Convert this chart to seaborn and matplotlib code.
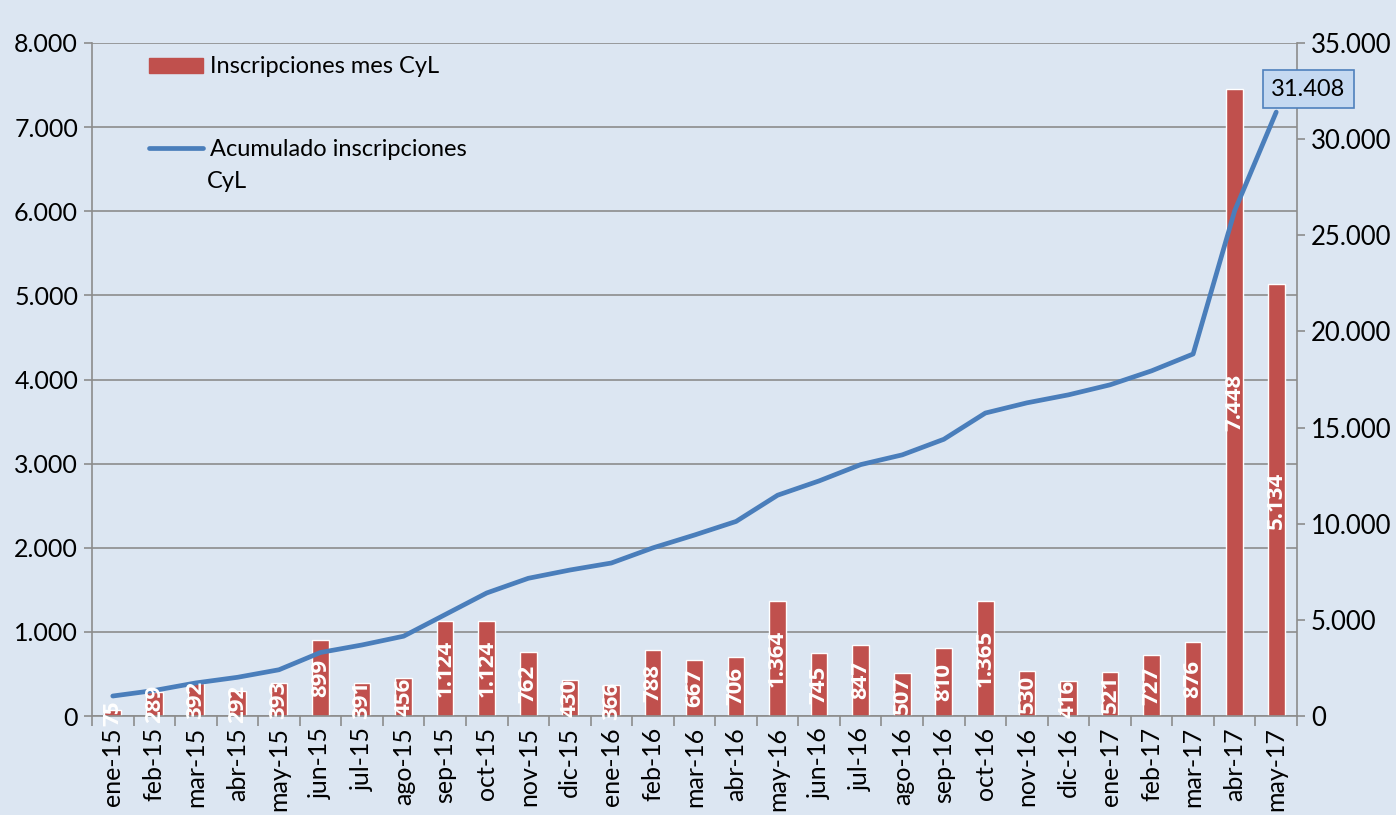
import matplotlib
matplotlib.use("Agg")
import matplotlib.pyplot as plt
import seaborn as sns
import pandas as pd
import numpy as np
from matplotlib.ticker import FuncFormatter, MultipleLocator, FixedLocator
from matplotlib.patches import Patch
from matplotlib.lines import Line2D

months = ["ene-15", "feb-15", "mar-15", "abr-15", "may-15", "jun-15", "jul-15", "ago-15",
          "sep-15", "oct-15", "nov-15", "dic-15", "ene-16", "feb-16", "mar-16", "abr-16",
          "may-16", "jun-16", "jul-16", "ago-16", "sep-16", "oct-16", "nov-16", "dic-16",
          "ene-17", "feb-17", "mar-17", "abr-17", "may-17"]
monthly = [75, 289, 392, 292, 393, 899, 391, 456, 1124, 1124, 762, 430, 366, 788, 667, 706,
           1364, 745, 847, 507, 810, 1365, 530, 416, 521, 727, 876, 7448, 5134]
cumulative = [1039, 1328, 1720, 2012, 2405, 3304, 3695, 4151, 5275, 6399, 7161, 7591, 7957,
              8745, 9412, 10118, 11482, 12227, 13074, 13581, 14391, 15756, 16286, 16702,
              17223, 17950, 18826, 26274, 31408]
bar_label = "Inscripciones mes CyL"
line_label_1 = "Acumulado inscripciones"
line_label_2 = "CyL"

BG = "#DCE6F2"
RED = "#C0504D"
BLUE = "#4A7EBB"
GRID = "#8C8C8C"

sns.set_theme(style="white")
plt.rcParams["font.family"] = ["Lato", "DejaVu Sans"]

fig = plt.figure(figsize=(13.96, 8.15), dpi=100, facecolor=BG)
ax = fig.add_axes([92 / 1396, 1 - 716 / 815, (1297 - 92) / 1396, (716 - 43) / 815])
ax.set_facecolor(BG)

df = pd.DataFrame({"mes": months, "valor": monthly, "acum": cumulative, "pos": np.arange(len(months))})

sns.barplot(data=df, x="mes", y="valor", color=RED, width=0.4, saturation=1,
            ax=ax, zorder=2)
ax.set_xlim(-0.5, len(months) - 0.5)
ax.set_ylim(0, 8000)
ax.yaxis.set_major_locator(MultipleLocator(1000))
fmt = FuncFormatter(lambda v, p: f"{int(v):,}".replace(",", "."))
ax.yaxis.set_major_formatter(fmt)
ax.grid(axis="y", color=GRID, linewidth=1.2, zorder=0)
ax.set_axisbelow(True)
ax.set_xlabel("")
ax.set_ylabel("")

ax2 = ax.twinx()
sns.lineplot(data=df, x="pos", y="acum", color=BLUE, linewidth=3.4, ax=ax2,
             zorder=3, legend=False)
ax2.set_ylim(0, 35000)
ax2.yaxis.set_major_locator(MultipleLocator(5000))
ax2.yaxis.set_major_formatter(fmt)
ax2.set_ylabel("")
ax2.set_xlabel("")
ax2.set_xlim(-0.5, len(months) - 0.5)
ax.set_zorder(1)
ax2.set_zorder(2)
ax2.patch.set_visible(False)

for a in (ax, ax2):
    for s in a.spines.values():
        s.set_color(GRID)
        s.set_linewidth(1.2)
    a.spines["top"].set_visible(False)
ax2.spines["left"].set_visible(False)
ax.spines["right"].set_visible(False)
ax2.spines["bottom"].set_visible(False)

# x ticks
ax.set_xticks(range(len(months)))
ax.set_xticklabels(months, rotation=90, fontsize=18, color="black")
ax.xaxis.set_minor_locator(FixedLocator(np.arange(-0.5, len(months), 1)))
ax.tick_params(axis="x", which="major", length=0, pad=8)
ax.tick_params(axis="x", which="minor", length=7, color=GRID, width=1.2, direction="out", bottom=True)
ax.tick_params(axis="y", which="major", length=6, color=GRID, width=1.2, labelsize=18,
               labelcolor="black", direction="out", pad=4, left=True)
ax2.tick_params(axis="y", which="major", length=6, color=GRID, width=1.2, labelsize=18.5,
                labelcolor="black", direction="out", pad=4, right=True)
ax2.tick_params(axis="x", which="both", bottom=False, labelbottom=False)

# bar value labels
for i, v in enumerate(monthly):
    lbl = f"{v:,}".replace(",", ".")
    y = v / 2 / 8000 * 35000
    ax2.text(i, y, lbl, rotation=90, ha="center", va="center", color="white",
             fontsize=16, fontweight="bold", family=["Open Sans", "DejaVu Sans"], zorder=5)

# end annotation
ax2.annotate(f"{cumulative[-1]:,}".replace(",", "."), xy=(len(months) - 1, cumulative[-1]),
             xytext=(32, 23), textcoords="offset pixels", ha="center", va="center",
             fontsize=17, color="black", zorder=6,
             bbox=dict(boxstyle="square,pad=0.35", facecolor="#C5D9F1", edgecolor="#4F81BD", linewidth=1.2))

# legend
handles = [Patch(facecolor=RED, edgecolor=RED), Line2D([0], [0], color=BLUE, linewidth=3.4)]
leg = ax2.legend(handles, [bar_label, line_label_1], loc="upper left",
                 bbox_to_anchor=(0.047, 0.98), frameon=False, fontsize=17,
                 handlelength=2.3, handleheight=0.6, handletextpad=0.3, labelspacing=2.6,
                 borderaxespad=0, borderpad=0)
for t in leg.get_texts():
    t.set_color("black")
fig.text(207 / 1396, 1 - 181 / 815, line_label_2, fontsize=17, color="black",
         ha="left", va="center")

fig.savefig("out.png", dpi=100, facecolor=BG)
